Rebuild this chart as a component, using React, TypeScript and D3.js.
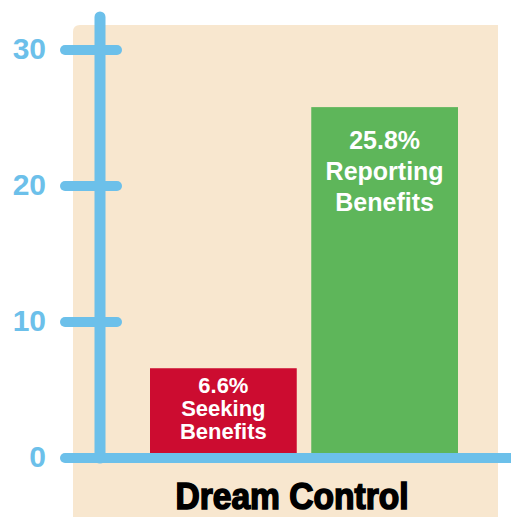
import React from "react";
import * as d3 from "d3";

const categories = ["Seeking Benefits", "Reporting Benefits"];
const values = [6.6, 25.8];
const valueLabels = ["6.6%", "25.8%"];
const labelLines = [["Seeking", "Benefits"], ["Reporting", "Benefits"]];
const barColors = ["#cc0c30", "#5eb65a"];
const yTicks = [0, 10, 20, 30];
const groupLabel = "Dream Control";

const W = 511;
const H = 517;
const axisColor = "#6cc0ea";

export default function App() {
  const y = d3.scaleLinear().domain([0, 30]).range([458, 50]);
  const x = d3.scaleBand<string>().domain(categories).range([150, 458]).paddingInner(0.09).paddingOuter(0);
  const fontSizes = [22, 25];
  const lineGap = [23, 31];
  return (
    <svg width={W} height={H} style={{ position: "absolute", left: 0, top: 0, display: "block" }}>
      <path d={`M73,517 L73,32 Q73,25 80,25 L498,25 L498,517 Z`} fill="#f8e7cf" />
      {categories.map((c, i) => {
        const x0 = x(c)!;
        const bw = x.bandwidth();
        const top = y(values[i]);
        const cx = x0 + bw / 2;
        const fs = fontSizes[i];
        const first = i === 0 ? top + 25 : top + 42;
        return (
          <g key={c}>
            <rect x={x0} y={top} width={bw} height={y(0) - top - 3} fill={barColors[i]} />
            {[valueLabels[i], ...labelLines[i]].map((t, j) => (
              <text
                key={j}
                x={cx}
                y={first + j * lineGap[i]}
                textAnchor="middle"
                fill="#fff"
                fontFamily="'Liberation Sans', Arial, sans-serif"
                fontWeight="bold"
                fontSize={fs}
              >
                {t}
              </text>
            ))}
          </g>
        );
      })}
      {yTicks.map((t) => (
        <g key={t}>
          <line x1={65} x2={t === 0 ? 520 : 117} y1={y(t)} y2={y(t)} stroke={axisColor} strokeWidth={10} strokeLinecap="round" />
          <text
            x={46}
            y={y(t) + 9}
            textAnchor="end"
            fill={axisColor}
            fontFamily="'Liberation Sans', Arial, sans-serif"
            fontWeight="bold"
            fontSize={30}
          >
            {t}
          </text>
        </g>
      ))}
      <line x1={100} x2={100} y1={17} y2={y(0)} stroke={axisColor} strokeWidth={11} strokeLinecap="round" />
      <text
        x={292}
        y={509}
        textAnchor="middle"
        fill="#000"
        stroke="#000"
        strokeWidth={1.6}
        fontFamily="'Liberation Sans Narrow', 'Liberation Sans', Arial, sans-serif"
        fontWeight="bold"
        fontSize={36}
        textLength={233}
        lengthAdjust="spacingAndGlyphs"
      >
        {groupLabel}
      </text>
    </svg>
  );
}
